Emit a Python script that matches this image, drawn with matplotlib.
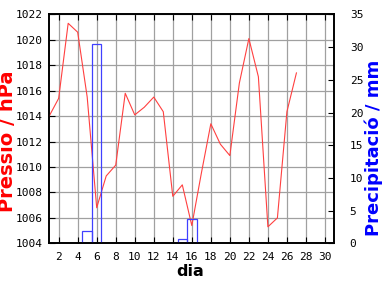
import matplotlib
matplotlib.use('Agg')
import matplotlib.pyplot as plt

# Daily pressure (hPa) and precipitation (mm)
days = list(range(1, 28))
pressure = [1014.0, 1015.4, 1021.3, 1020.6, 1015.5, 1006.8, 1009.3, 1010.15, 1015.8,
            1014.1, 1014.7, 1015.5, 1014.35, 1007.7, 1008.6, 1005.4, 1009.5, 1013.4,
            1011.8, 1010.9, 1016.6, 1020.1, 1017.1, 1005.3, 1006.0, 1014.35, 1017.4]
rain_days = [5, 6, 15, 16]
rain = [1.9, 30.5, 0.6, 3.7]

x_ticks = list(range(2, 31, 2))
p_ticks = list(range(1004, 1023, 2))
r_ticks = list(range(0, 36, 5))

mono = 'DejaVu Sans Mono'

fig = plt.figure(figsize=(3.84, 2.88), dpi=100)
ax1 = fig.add_axes([0.128, 0.155, 0.743, 0.795])
ax2 = ax1.twinx()

ax1.plot(days, pressure, color='#ff4040', linewidth=0.8, zorder=3)
ax1.set_xlim(1, 31)
ax1.set_ylim(1004, 1022)
ax1.set_xticks(x_ticks)
ax1.set_yticks(p_ticks)
ax1.grid(True, color='#a0a0a0', linewidth=0.9)
ax1.set_axisbelow(True)

ax2.bar(rain_days, rain, width=1.0, fill=False, edgecolor='#4040ff', linewidth=0.9)
ax2.set_ylim(0, 35)
ax2.set_yticks(r_ticks)

for lbl in ax1.get_xticklabels() + ax1.get_yticklabels() + ax2.get_yticklabels():
    lbl.set_fontfamily(mono)
    lbl.set_fontsize(8)

ax1.tick_params(axis='both', direction='in', length=4, width=0.8, top=True)
ax1.tick_params(axis='y', pad=5)
ax1.tick_params(axis='x', pad=6)
ax2.tick_params(axis='y', direction='in', length=4, width=0.8, pad=11)

for ax in (ax1, ax2):
    for s in ax.spines.values():
        s.set_linewidth(1.2)

# axis titles placed like the original
fig.text(8 / 384, 1 - 141.5 / 288, 'Pressió / hPa', color='#ff0000', fontsize=14,
         fontweight='bold', rotation=90, ha='center', va='center')
fig.text(374 / 384, 1 - 148 / 288, 'Precipitació / mm', color='#0000ff', fontsize=13,
         fontweight='bold', rotation=90, ha='center', va='center')
fig.text(190 / 384, 1 - 272 / 288, 'dia', color='black', fontsize=11.5,
         fontweight='bold', ha='center', va='center')

fig.savefig('out.png', dpi=100)
